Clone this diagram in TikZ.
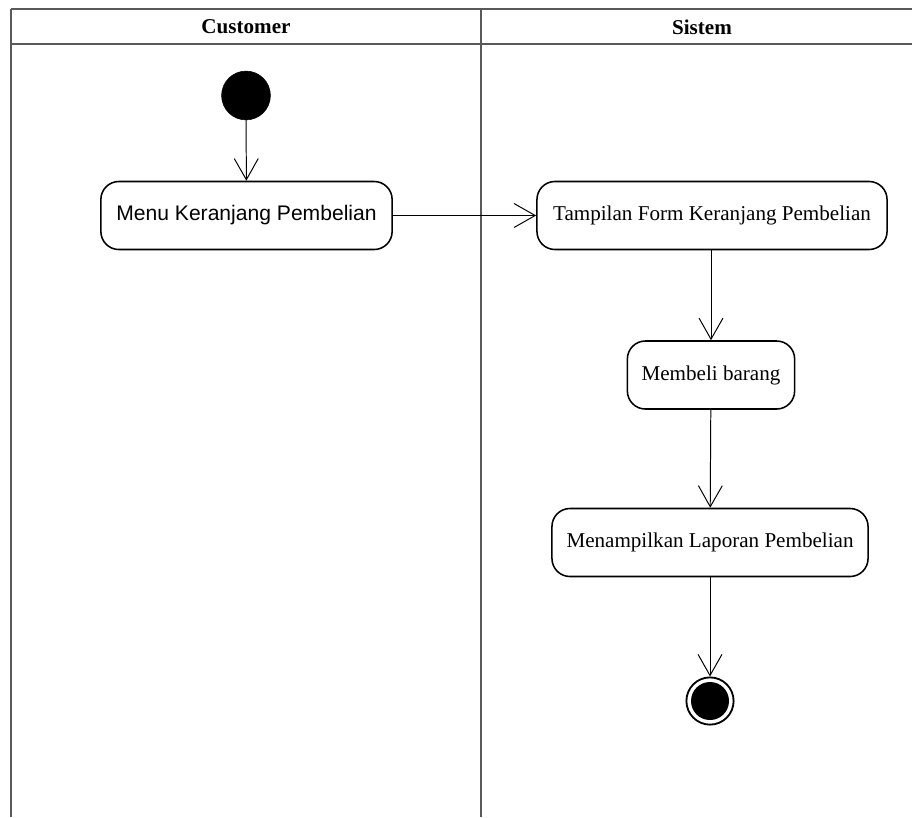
\documentclass[tikz,border=0pt]{standalone}
\usepackage{fontspec}
\setmainfont{Liberation Serif}
\newfontfamily\arialfont{Liberation Sans}
\usepackage{tikz}
\usetikzlibrary{arrows.meta}
\usetikzlibrary{shapes}
\tikzset{activity/.style={shape=rectangle,rounded corners=0.45cm,draw=black,line width=1.1pt,align=center,inner sep=0,minimum height=1.7cm,font=\fontsize{15}{18}\selectfont}}
\tikzset{flow/.style={draw=black,line width=0.7pt,-{Straight Barb[length=15pt,width=17pt,line width=0.7pt]}}}
\tikzset{lane/.style={draw=black!65,line width=1.1pt}}

\begin{document}
\begin{tikzpicture}[x=0.025cm,y=-0.025cm]
	\useasboundingbox (0,0) rectangle (912,817);

	% swimlanes
	\draw [lane] (11,9) -- (912,9);
	\draw [lane] (11,44) -- (912,44);
	\draw [lane] (11,9) -- (11,817);
	\draw [lane] (481,9) -- (481,817);

	\node (hcust) at (246,27) {\fontsize{15}{18}\selectfont\bfseries Customer};
	\node (hsis) at (702,27) {\fontsize{15}{18}\selectfont\bfseries Sistem};

	% initial state
	\draw (246,95.5) node[circle,draw,fill=black,inner sep=0,minimum size=1.22cm] (start) {};

	% activities
	\node [activity,minimum width=7.28cm,font=\arialfont\fontsize{15}{18}\selectfont] (menu) at (246.5,215.5) {Menu Keranjang Pembelian};
	\node [activity,minimum width=8.75cm] (tampilan) at (712,215.5) {Tampilan Form Keranjang Pembelian};
	\node [activity,minimum width=4.18cm] (membeli) at (711,375) {Membeli barang};
	\node [activity,minimum width=7.9cm] (laporan) at (710,542.5) {Menampilkan Laporan Pembelian};

	% final state
	\draw (710,701) node[circle,draw,line width=1.3pt,fill=white,inner sep=0,minimum size=1.18cm] (stop) {};
	\draw (stop) node[circle,fill=black,inner sep=0,minimum size=0.95cm] (stopin) {};

	\draw [flow] (start) -- (menu);
	\draw [flow] (menu) -- (tampilan);
	\draw [flow] (tampilan.south -| membeli) -- (membeli);
	\draw [flow] (membeli) -- (laporan);
	\draw [flow] (laporan) -- (stop);

\end{tikzpicture}
\end{document}
